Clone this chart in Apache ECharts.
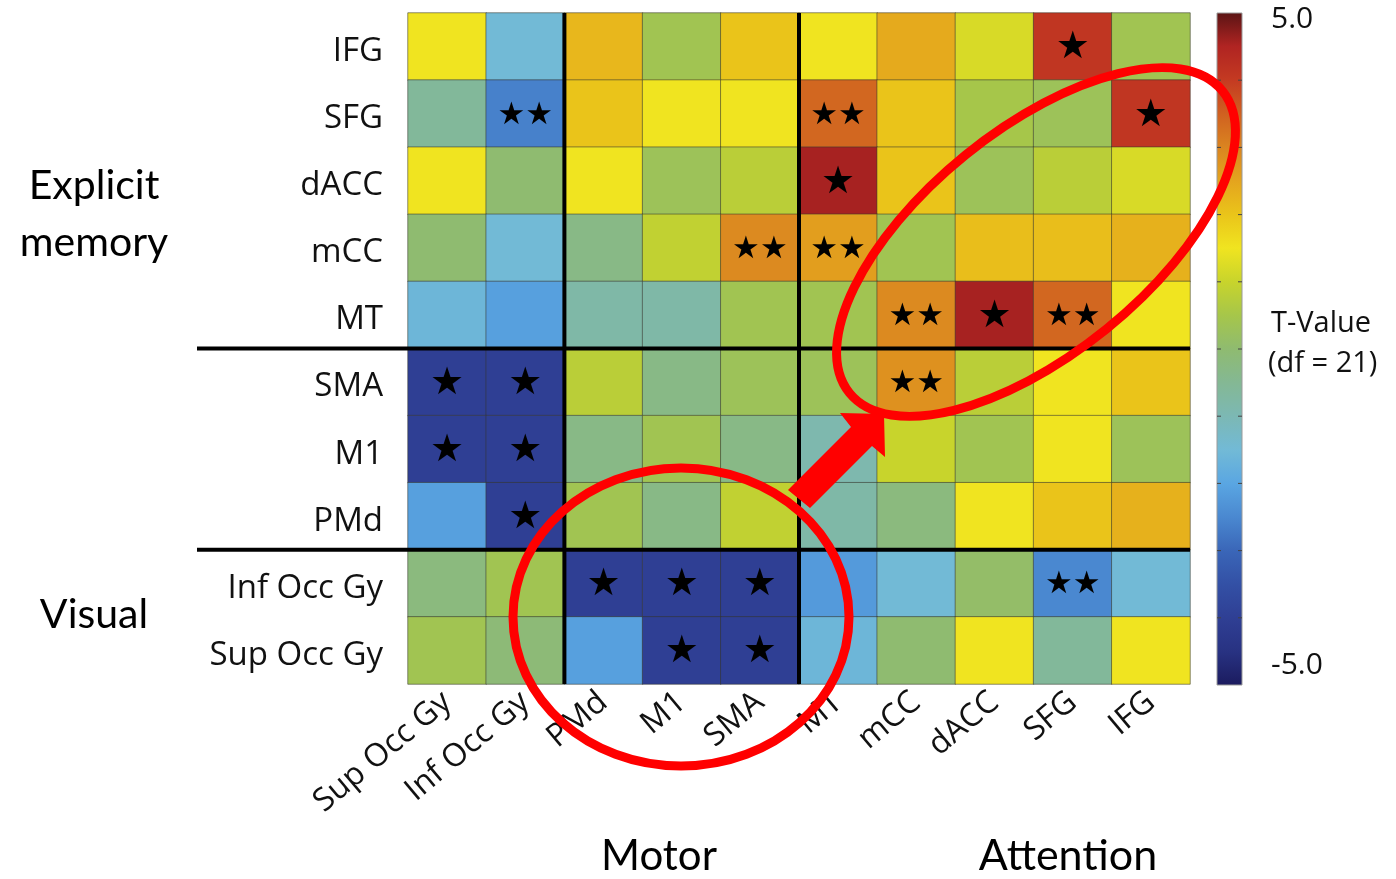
<!DOCTYPE html>
<html>
<head>
<meta charset="utf-8">
<script src="https://cdn.jsdelivr.net/npm/echarts@6/dist/echarts.min.js"></script>
<style>
  html, body { margin: 0; padding: 0; background: #fff; }
  #chart { width: 1396px; height: 879px; }
</style>
</head>
<body>
<div id="chart"></div>
<script>
  /** Data */
  var xCategories = ['Sup Occ Gy', 'Inf Occ Gy', 'PMd', 'M1', 'SMA', 'MT', 'mCC', 'dACC', 'SFG', 'IFG'];
  var yCategories = ['Sup Occ Gy', 'Inf Occ Gy', 'PMd', 'M1', 'SMA', 'MT', 'mCC', 'dACC', 'SFG', 'IFG'];
  // rows listed top to bottom
  var rowOrder = ['IFG', 'SFG', 'dACC', 'mCC', 'MT', 'SMA', 'M1', 'PMd', 'Inf Occ Gy', 'Sup Occ Gy'];
  var tValues = [
    [ 1.5, -1.5,  2.2,  0.4,  2.0,  1.5,  2.4,  1.2,  4.1,  0.4],
    [-0.6, -2.6,  2.0,  1.5,  1.5,  3.4,  2.0,  0.5,  0.3,  4.1],
    [ 1.5,  0.0,  1.5,  0.3,  0.8,  4.55, 2.0,  0.3,  0.8,  1.2],
    [ 0.0, -1.5, -0.3,  0.9,  2.9,  2.6,  0.4,  2.1,  2.1,  2.3],
    [-1.6, -2.1, -0.8, -0.8,  0.4,  0.4,  2.9,  4.55, 3.4,  1.5],
    [-4.0, -4.0,  0.8, -0.3,  0.3,  0.3,  2.8,  0.8,  1.5,  2.0],
    [-4.0, -4.0, -0.3,  0.4, -0.3, -0.9,  1.0,  0.4,  1.5,  0.3],
    [-2.1, -4.0,  0.4, -0.3,  0.9, -0.8, -0.2,  1.5,  2.0,  2.3],
    [-0.2,  0.4, -4.0, -4.0, -4.0, -2.2, -1.5,  0.1, -2.5, -1.5],
    [ 0.4, -0.1, -2.1, -4.0, -4.0, -1.6,  0.0,  1.5, -0.6,  1.5]
  ];
  var starCounts = [
    [0, 0, 0, 0, 0, 0, 0, 0, 1, 0],
    [0, 2, 0, 0, 0, 2, 0, 0, 0, 1],
    [0, 0, 0, 0, 0, 1, 0, 0, 0, 0],
    [0, 0, 0, 0, 2, 2, 0, 0, 0, 0],
    [0, 0, 0, 0, 0, 0, 2, 1, 2, 0],
    [1, 1, 0, 0, 0, 0, 2, 0, 0, 0],
    [1, 1, 0, 0, 0, 0, 0, 0, 0, 0],
    [0, 1, 0, 0, 0, 0, 0, 0, 0, 0],
    [0, 0, 1, 1, 1, 0, 0, 0, 2, 0],
    [0, 0, 0, 1, 1, 0, 0, 0, 0, 0]
  ];
  var colorbarTicks = ['5.0', '-5.0'];
  var colorStops = [
    '#1b1b5e', '#283282', '#2f3f94', '#3350a5', '#3a66b8', '#4a88d0', '#5aa6e2',
    '#72bad6', '#7cb8b4', '#84b894', '#8fbb70', '#a6c64a', '#c8d42c', '#f0e420',
    '#eac41a', '#e4a41e', '#da8420', '#d06020', '#c43a22', '#b02422', '#5a1414'
  ];

  var cells = [];
  tValues.forEach(function(row, r) {
    row.forEach(function(v, c) {
      cells.push([c, yCategories.indexOf(rowOrder[r]), v, starCounts[r][c]]);
    });
  });

  var labelFont = '"Open Sans", "Noto Sans", sans-serif';
  var groupFont = 'Lato, "Open Sans", sans-serif';

  var chart = echarts.init(document.getElementById('chart'));
  chart.setOption({
    animation: false,
    grid: { left: 408, right: 206, top: 13, bottom: 195 },
    xAxis: {
      type: 'category',
      data: xCategories,
      axisLine: { show: false },
      axisTick: { show: false },
      splitArea: { show: false },
      axisLabel: {
        rotate: 40, margin: 14, interval: 0,
        fontSize: 32, color: '#111', fontFamily: labelFont
      }
    },
    yAxis: {
      type: 'category',
      data: yCategories,
      axisLine: { show: false },
      axisTick: { show: false },
      splitArea: { show: false },
      axisLabel: {
        margin: 25, interval: 0,
        formatter: '{n|{value}}',
        rich: { n: { fontSize: 33, color: '#111', fontFamily: labelFont, padding: [10, 0, 0, 0] } }
      }
    },
    visualMap: {
      type: 'continuous',
      show: false,
      min: -5, max: 5,
      dimension: 2,
      inRange: { color: colorStops }
    },
    series: [{
      type: 'heatmap',
      data: cells,
      itemStyle: { borderColor: 'rgba(55,55,45,0.55)', borderWidth: 1 },
      label: {
        show: true,
        color: '#000',
        formatter: function(p) {
          var n = p.value[3];
          return n === 2 ? '{two|★★}' : (n === 1 ? '{one|★}' : '');
        },
        rich: {
          one: { fontSize: 38, color: '#000', fontFamily: 'DejaVu Sans', padding: [4, 0, 0, 0] },
          two: { fontSize: 31, color: '#000', fontFamily: 'DejaVu Sans', padding: [4, 0, 0, 0] }
        }
      },
      emphasis: { disabled: true }
    }]
  });

  /** Decorations: dividers, colorbar, group names, annotations */
  var xEdge = function(i) {
    return (chart.convertToPixel({ xAxisIndex: 0 }, xCategories[i]) +
            chart.convertToPixel({ xAxisIndex: 0 }, xCategories[i + 1])) / 2;
  };
  var yEdge = function(name, nextName) {
    return (chart.convertToPixel({ yAxisIndex: 0 }, name) +
            chart.convertToPixel({ yAxisIndex: 0 }, nextName)) / 2;
  };
  var gTop = 13, gBottom = 879 - 195, gRight = 1396 - 206;
  var blackLine = { stroke: '#000', lineWidth: 4 };
  var v1 = xEdge(1), v2 = xEdge(4);
  var h1 = yEdge('MT', 'SMA'), h2 = yEdge('PMd', 'Inf Occ Gy');

  var barX = 1217, barY = 13, barW = 25, barH = 672;
  var gradient = {
    type: 'linear', x: 0, y: 1, x2: 0, y2: 0,
    colorStops: colorStops.map(function(c, i) {
      return { offset: i / (colorStops.length - 1), color: c };
    })
  };

  var red = '#ff0000';
  var graphics = [
    { type: 'line', z: 50, shape: { x1: v1, y1: gTop, x2: v1, y2: gBottom }, style: blackLine },
    { type: 'line', z: 50, shape: { x1: v2, y1: gTop, x2: v2, y2: gBottom }, style: blackLine },
    { type: 'line', z: 50, shape: { x1: 197, y1: h1, x2: gRight, y2: h1 }, style: blackLine },
    { type: 'line', z: 50, shape: { x1: 197, y1: h2, x2: gRight, y2: h2 }, style: blackLine },
    // colorbar
    { type: 'rect', z: 40, shape: { x: barX, y: barY, width: barW, height: barH },
      style: { fill: gradient, stroke: '#9a9a9a', lineWidth: 1 } },
    { type: 'text', left: 1271, top: 4, style: { text: colorbarTicks[0], font: '30px ' + labelFont, fill: '#111' } },
    { type: 'text', left: 1271, top: 650, style: { text: colorbarTicks[1], font: '30px ' + labelFont, fill: '#111' } },
    { type: 'text', left: 1271, top: 309, style: { text: 'T-Value', font: '29px ' + labelFont, fill: '#111' } },
    { type: 'text', left: 1268, top: 349, style: { text: '(df = 21)', font: '29px ' + labelFont, fill: '#111' } },
    // group names
    { type: 'text', x: 94, y: 186, style: { text: 'Explicit', font: '41px ' + groupFont, fill: '#000', align: 'center', verticalAlign: 'middle' } },
    { type: 'text', x: 94, y: 243, style: { text: 'memory', font: '41px ' + groupFont, fill: '#000', align: 'center', verticalAlign: 'middle' } },
    { type: 'text', x: 94, y: 615, style: { text: 'Visual', font: '41px ' + groupFont, fill: '#000', align: 'center', verticalAlign: 'middle' } },
    { type: 'text', x: 659, y: 856, style: { text: 'Motor', font: '42px ' + groupFont, fill: '#000', align: 'center', verticalAlign: 'middle' } },
    { type: 'text', x: 1068, y: 856, style: { text: 'Attention', font: '43px ' + groupFont, fill: '#000', align: 'center', verticalAlign: 'middle' } },
    // red annotations
    { type: 'ellipse', z: 200, x: 1036, y: 242, rotation: 39 * Math.PI / 180,
      shape: { cx: 0, cy: 0, rx: 240, ry: 112 },
      style: { fill: 'none', stroke: red, lineWidth: 9 } },
    { type: 'ellipse', z: 200, shape: { cx: 681, cy: 617, rx: 168, ry: 149 },
      style: { fill: 'none', stroke: red, lineWidth: 9 } },
    { type: 'polygon', z: 200,
      shape: { points: [[788, 490], [851, 427], [840, 413], [884, 414], [885, 457], [872, 446], [810, 508]] },
      style: { fill: red } }
  ];
  var ticks = [];
  for (var t = 1; t < 10; t++) {
    var ty = barY + barH * t / 10;
    ticks.push({ type: 'line', z: 45, shape: { x1: barX, y1: ty, x2: barX + 4, y2: ty }, style: { stroke: '#444', lineWidth: 1 } });
    ticks.push({ type: 'line', z: 45, shape: { x1: barX + barW - 4, y1: ty, x2: barX + barW, y2: ty }, style: { stroke: '#444', lineWidth: 1 } });
  }
  chart.setOption({ graphic: graphics.concat(ticks) });
</script>
</body>
</html>
